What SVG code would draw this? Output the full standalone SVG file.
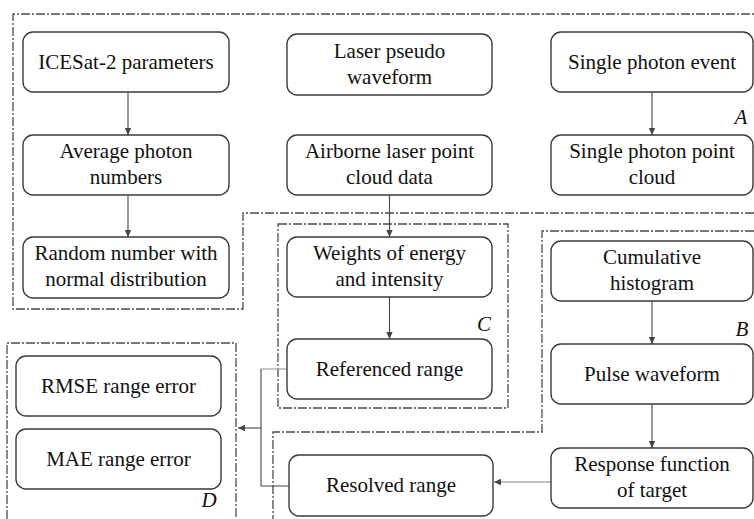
<svg xmlns="http://www.w3.org/2000/svg" width="754" height="519" viewBox="0 0 754 519">
<defs>
<style>
.n{fill:#fff;stroke:#3a3a3a;stroke-width:1.4}
.t{font-family:"Liberation Serif","Times New Roman",serif;font-size:21px;fill:#111;text-anchor:middle}
.lb{font-family:"Liberation Serif","Times New Roman",serif;font-size:21px;font-style:italic;fill:#111;text-anchor:middle}
.r{fill:none;stroke:#4a4a4a;stroke-width:1.3;stroke-dasharray:9 2 2 2}
.c{fill:none;stroke:#444;stroke-width:1.1}
.cl{fill:none;stroke:#aaa;stroke-width:1.3}
</style>
<marker id="ah" markerWidth="8" markerHeight="8" refX="7" refY="4" orient="auto" markerUnits="userSpaceOnUse">
<path d="M0,0.8 L7,4 L0,7.2 z" fill="#444"/>
</marker>
</defs>
<rect width="754" height="519" fill="#fff"/>
<g id="regions">
<path class="r" d="M754,213 H243 V309 H13 V14 H754"/>
<rect class="r" x="278" y="224" width="230" height="184"/>
<path class="r" d="M754,231 H542 V432 H273 V519"/>
<path class="r" d="M7,519 V343 H236 V519"/>
<text class="lb" x="741" y="124">A</text>
<text class="lb" x="742" y="336">B</text>
<text class="lb" x="484" y="331">C</text>
<text class="lb" x="209" y="507">D</text>
</g>
<g id="connectors">
<line class="c" x1="128" y1="92" x2="128" y2="135" marker-end="url(#ah)"/>
<line class="c" x1="128" y1="195" x2="128" y2="237" marker-end="url(#ah)"/>
<line class="c" x1="652" y1="92" x2="652" y2="135" marker-end="url(#ah)"/>
<line class="c" x1="389.5" y1="195" x2="389.5" y2="237" marker-end="url(#ah)"/>
<line class="c" x1="389.5" y1="297" x2="389.5" y2="339" marker-end="url(#ah)"/>
<line class="c" x1="652" y1="301" x2="652" y2="344" marker-end="url(#ah)"/>
<line class="c" x1="652" y1="404" x2="652" y2="448" marker-end="url(#ah)"/>
<line class="cl" x1="551" y1="482" x2="494" y2="482" marker-end="url(#ah)"/>
<path class="cl" d="M287,369 H261"/>
<path class="c" d="M261,369 V486 H289"/>
<line class="c" x1="261" y1="428" x2="238" y2="428" marker-end="url(#ah)"/>
</g>
<g id="n1"><rect class="n" x="23" y="32" width="206" height="60" rx="10"/><text class="t" x="126" y="69">ICESat-2 parameters</text></g>
<g id="n2"><rect class="n" x="287" y="34" width="205" height="61" rx="10"/><text class="t" x="389.5" y="58">Laser pseudo</text><text class="t" x="389.5" y="84">waveform</text></g>
<g id="n3"><rect class="n" x="551" y="32" width="202" height="60" rx="10"/><text class="t" x="652" y="69">Single photon event</text></g>
<g id="n4"><rect class="n" x="23" y="135" width="206" height="60" rx="10"/><text class="t" x="126" y="158">Average photon</text><text class="t" x="126" y="184">numbers</text></g>
<g id="n5"><rect class="n" x="287" y="135" width="205" height="60" rx="10"/><text class="t" x="389.5" y="158">Airborne laser point</text><text class="t" x="389.5" y="184">cloud data</text></g>
<g id="n6"><rect class="n" x="551" y="135" width="202" height="60" rx="10"/><text class="t" x="652" y="158">Single photon point</text><text class="t" x="652" y="184">cloud</text></g>
<g id="n7"><rect class="n" x="23" y="237" width="206" height="61" rx="10"/><text class="t" x="126" y="260">Random number with</text><text class="t" x="126" y="286">normal distribution</text></g>
<g id="n8"><rect class="n" x="287" y="237" width="205" height="60" rx="10"/><text class="t" x="389.5" y="260">Weights of energy</text><text class="t" x="389.5" y="286">and intensity</text></g>
<g id="n9"><rect class="n" x="287" y="339" width="205" height="60" rx="10"/><text class="t" x="389.5" y="376">Referenced range</text></g>
<g id="n10"><rect class="n" x="551" y="241" width="202" height="60" rx="10"/><text class="t" x="652" y="264">Cumulative</text><text class="t" x="652" y="290">histogram</text></g>
<g id="n11"><rect class="n" x="551" y="344" width="202" height="60" rx="10"/><text class="t" x="652" y="381">Pulse waveform</text></g>
<g id="n12"><rect class="n" x="551" y="448" width="202" height="60" rx="10"/><text class="t" x="652" y="471">Response function</text><text class="t" x="652" y="497">of target</text></g>
<g id="n13"><rect class="n" x="289" y="455" width="204" height="61" rx="10"/><text class="t" x="391" y="492">Resolved range</text></g>
<g id="n14"><rect class="n" x="16" y="356" width="205" height="60" rx="10"/><text class="t" x="118.5" y="393">RMSE range error</text></g>
<g id="n15"><rect class="n" x="16" y="429" width="205" height="60" rx="10"/><text class="t" x="118.5" y="466">MAE range error</text></g>
</svg>
